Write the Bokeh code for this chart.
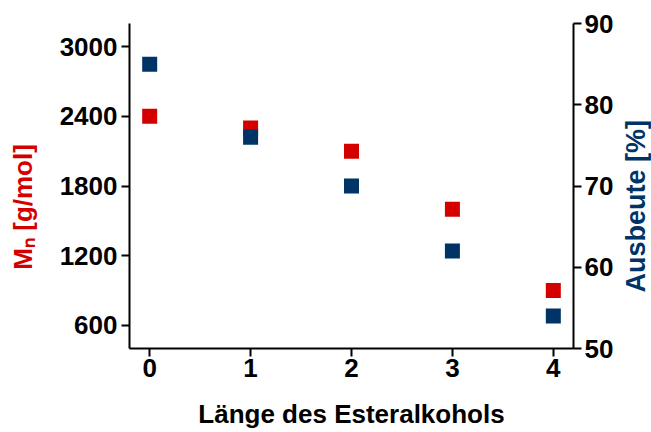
import math
from bokeh.plotting import figure
from bokeh.models import Range1d, LinearAxis, FixedTicker, Label
from bokeh.embed import file_html
from bokeh.resources import INLINE

# ---- data ----
x_vals = [0, 1, 2, 3, 4]
mn_vals = [2400, 2300, 2100, 1600, 900]
ausbeute_vals = [85, 76, 70, 62, 54]
x_ticks = [0, 1, 2, 3, 4]
mn_ticks = [600, 1200, 1800, 2400, 3000]
ausbeute_ticks = [50, 60, 70, 80, 90]

x_title = "Länge des Esteralkohols"
left_title = "Mₙ [g/mol]"
right_title = "Ausbeute [%]"

# layout constant (where the rotated left title sits along its axis)
LEFT_TITLE_AT = 1620

RED = "#d40000"
BLUE = "#003366"
FONT = "Liberation Sans"

p = figure(width=651, height=432, output_backend="svg", toolbar_location=None,
           x_range=Range1d(-0.2, 4.2), y_range=Range1d(400, 3200),
           min_border_left=129, min_border_right=78,
           min_border_top=23, min_border_bottom=84)
p.extra_y_ranges = {"y2": Range1d(50, 90)}
p.xgrid.visible = False
p.ygrid.visible = False
p.outline_line_color = None
p.background_fill_color = "white"
p.border_fill_color = "white"

p.scatter(x_vals, mn_vals, marker="square", size=15, fill_color=RED, line_color=None)
p.scatter(x_vals, ausbeute_vals, marker="square", size=15, fill_color=BLUE,
          line_color=None, y_range_name="y2")

right_axis = LinearAxis(y_range_name="y2")
p.add_layout(right_axis, "right")


def style(ax, ticks, standoff):
    ax.ticker = FixedTicker(ticks=ticks)
    ax.axis_line_width = 2
    ax.axis_line_color = "black"
    ax.major_tick_line_width = 2
    ax.major_tick_line_color = "black"
    ax.major_tick_out = 8
    ax.major_tick_in = 0
    ax.minor_tick_line_color = None
    ax.major_label_text_font = FONT
    ax.major_label_text_font_style = "bold"
    ax.major_label_text_font_size = "26px"
    ax.major_label_text_color = "black"
    ax.major_label_standoff = standoff


style(p.xaxis[0], x_ticks, 2)
style(p.yaxis[0], mn_ticks, 4)
style(right_axis, ausbeute_ticks, 3)

xa = p.xaxis[0]
xa.axis_label = x_title
xa.axis_label_text_font = FONT
xa.axis_label_text_font_style = "bold"
xa.axis_label_text_font_size = "26px"
xa.axis_label_text_color = "black"
xa.axis_label_standoff = 19


def title_axis(text, at, color, size, standoff, orientation, range_name=None):
    kw = {} if range_name is None else {"y_range_name": range_name}
    ax = LinearAxis(**kw)
    ax.ticker = FixedTicker(ticks=[at])
    ax.major_label_overrides = {at: text}
    ax.axis_line_color = None
    ax.major_tick_line_color = None
    ax.minor_tick_line_color = None
    ax.major_tick_out = 0
    ax.major_tick_in = 0
    ax.major_label_text_font = FONT
    ax.major_label_text_font_style = "bold"
    ax.major_label_text_font_size = size
    ax.major_label_text_color = color
    ax.major_label_standoff = standoff
    ax.major_label_orientation = orientation
    return ax


p.add_layout(title_axis(left_title, LEFT_TITLE_AT, RED, "26px", 18, "vertical"), "left")

# right title as a rotated label in the right side panel
rlabel = Label(x=19, y=56, x_units="screen", y_units="screen", text=right_title,
               angle=math.pi / 2, text_align="left", text_baseline="alphabetic",
               text_font=FONT, text_font_style="bold", text_font_size="27px",
               text_color=BLUE)
p.add_layout(rlabel, "right")

open("out.html", "w").write(file_html(p, INLINE))
